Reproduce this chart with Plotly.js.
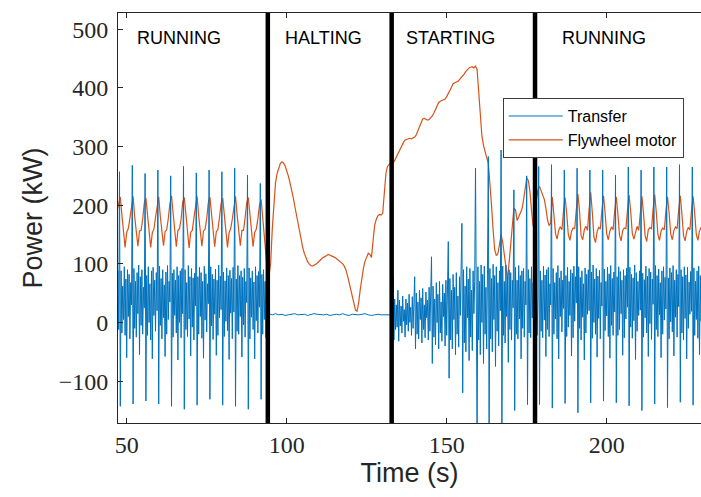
<!DOCTYPE html>
<html><head><meta charset="utf-8">
<script src="https://cdn.plot.ly/plotly-3.0.1.min.js"></script>
<style>html,body{margin:0;padding:0;background:#fff;overflow:hidden;} #chart{width:701px;height:497px;}</style>
</head><body><div id="chart"></div>
<script>
// ---------------- data ----------------
const seriesNames = ['Transfer', 'Flywheel motor'];
const phaseLabels = ['RUNNING', 'HALTING', 'STARTING', 'RUNNING'];
const phaseLabelTimes = [52.6, 98.8, 136.6, 185.4];
const phaseLabelPower = 485;
const phaseBoundaries = [94.1, 132.8, 177.6];
const xTickValues = [50, 100, 150, 200];
const yTickValues = [-100, 0, 100, 200, 300, 400, 500];

// Transfer power (kW), first running phase, sampled every 0.25 s from 47.0 s
const transferRunStart = 47.0, transferRunStep = 0.25;
const transferRunPower = [
  28, 88, -12,
  257, -143, 88, -18, 62, 5, 95, -22, 74, -60, 90, 10, 82, -28, 68, 30,
  268, -139, 92, -10, 70, -25, 85, 15, 98, -55, 78, -5, 90, -20, 60, 25,
  254, -134, 80, -22, 95, 0, 66, -30, 88, -62, 94, 12, 72, -15, 85, 20,
  260, -139, 96, -5, 75, -28, 90, 8, 64, -58, 86, -20, 97, 5, 70, 35,
  250, -143, 84, -25, 90, 12, 72, -18, 95, -64, 80, 0, 88, -26, 92, 15,
  266, -148, 90, -12, 68, -24, 97, 6, 78, -57, 92, -8, 76, -30, 84, 28,
  255, -141, 78, -20, 94, 10, 85, -27, 70, -61, 96, 4, 83, -16, 66, 32,
  260, -131, 95, -6, 82, -29, 74, 14, 91, -56, 72, -22, 98, 8, 79, 22,
  257, -141, 86, -24, 71, 2, 93, -14, 80, -63, 89, 16, 75, -28, 94, 18,
  263, -143, 74, -15, 97, -20, 80, 10, 88, -59, 77, -4, 92, -25, 70, 34,
  251, -148, 93, -28, 76, 9, 88, -12, 69, -62, 95, 3, 80, -18, 87, 26,
  237, -131, 82, -20, 90, 5, 70, -26, 60, 15
];
// Transfer power during halting, every 1 s from 94.5 s
const transferHaltStart = 94.5, transferHaltStep = 1.0;
const transferHaltPower = [
  14, 13, 15, 13, 14, 12, 13, 14, 15, 13,
  13, 14, 12, 13, 15, 14, 13, 13, 14, 12,
  13, 14, 13, 15, 13, 12, 14, 13, 13, 14,
  15, 13, 12, 13, 14, 13, 13, 14, 13
];
// Transfer power, starting + second running phase, every 0.25 s from 132.75 s
const transferRestartStart = 132.75, transferRestartStep = 0.25;
const transferRestartPower = [
  13, 35, 78, -30, 40, -12, 30, -8,
  55, -32, 38, -6, 28, -18, 45, 2, 22, -25, 40, -4, 33, -15, 48, 0, 26, -22, 44, -10, 36,
  78, -45,
  50, -20, 35, -28, 55, 5, 42, -35, 58, -12, 30, -26, 52, 8, 38, -30, 60, -15, 45,
  112, -70,
  62, -25, 40, -38, 68, 0, 48, -45, 70, -18, 35, -32, 65, 10, 50, -40, 72, -22, 55,
  138, -95,
  75, -30, 55, -45, 82, 5, 60, -55, 85, -20, 45, -42, 78, 12, 68,
  169, -120,
  90, -35, 62, -50, 95, 8, 74, -65, 92, -25, 55, -48, 88, 15, 70,
  263, -40, -190,
  95, -30, 70, -55, 98, 0, 82, -70, 96, -20, 60, -45, 90,
  283, -200,
  92, -28, 75, -50, 99, 5, 80, -75, 95, -15, 68, -40, 88, 20,
  294, -195,
  96, -22, 70, -35, 98, 10, 78, -68, 90, -12, 85, -30, 72, 25,
  226, -150,
  94, -20, 72, -28, 97, 6, 80, -62, 88, -10, 92, -25, 70, 30,
  250, -140,
  90, -18, 75, -26, 95, 8, 68, -60, 92, -8, 85, -22, 40,
  266, -140, 88, -15, 72, -26, 96, 4, 81, -58, 90, -12, 94, -24, 66, 30,
  269, -146, 92, -20, 68, 6, 85, -28, 97, -62, 76, 10, 88, -16, 72, 24,
  260, -138, 80, -24, 94, -8, 70, 12, 90, -57, 84, -26, 96, 2, 78, 33,
  263, -154, 95, -10, 77, -30, 88, 9, 66, -64, 93, -18, 82, 14, 90, 20,
  260, -137, 86, -27, 98, 0, 74, -20, 92, -59, 79, 7, 89, -28, 68, 28,
  260, -134, 91, -14, 70, 11, 94, -24, 83, -61, 97, -5, 75, -22, 86, 18,
  251, -137, 78, -22, 95, -12, 87, 15, 72, -56, 90, -26, 80, 6, 93, 26,
  265, -142, 94, -8, 82, -27, 76, 3, 98, -63, 85, -15, 70, 12, 88, 21,
  260, -150, 84, -25, 73, 8, 96, -18, 79, -58, 92, -2, 86, -29, 74, 31,
  265, -139, 97, -12, 80, -24, 91, 13, 68, -60, 88, -20, 95, 4, 77, 23,
  265, -145, 76, -28, 93, 1, 85, -16, 97, -57, 72, 9, 90, -25, 82, 27,
  269, -136, 90, -18, 78, -30, 95, 7, 81, -62, 94, -10, 69, 14, 87, 19,
  265, -141, 93, -22, 70, 5, 88, -27, 96, -55, 80, 2, 91, -15
];
// Flywheel motor power (kW), every 0.5 s from 47.0 s
const flywheelStart = 47.0, flywheelStep = 0.5;
const flywheelPower = [
  // first running phase
  190,
  205, 214, 183, 152, 128, 154, 160, 178,
  202, 215, 180, 155, 130, 156, 157, 176,
  204, 212, 184, 153, 128, 153, 159, 179,
  201, 214, 181, 156, 131, 155, 158, 177,
  203, 216, 182, 152, 129, 157, 160, 176,
  205, 213, 185, 154, 127, 154, 157, 178,
  202, 215, 181, 155, 130, 156, 159, 177,
  204, 214, 183, 153, 129, 155, 158, 179,
  203, 212, 180, 156, 128, 153, 160, 176,
  201, 215, 184, 152, 131, 157, 157, 178,
  204, 213, 182, 155, 129, 154, 159, 177,
  200, 210, 175, 140, 110, 85, 80, 102,
  // halting
  160, 208, 238, 254, 265, 271, 274, 272, 267, 260,
  250, 239, 228, 214, 199, 184, 169, 154, 140, 128,
  118, 110, 104, 100, 97, 96, 97, 99, 101, 104,
  106, 109, 111, 112, 114, 116, 115, 114, 113, 111,
  109, 107, 105, 102, 100, 96, 90, 80, 68, 55,
  42, 30, 21, 19, 34, 57, 77, 93, 105, 113,
  118, 116, 111, 140, 166, 176, 182, 184, 183, 186,
  222, 254, 266, 270, 272, 272,
  // starting
  274, 279, 285, 291, 296, 302, 307, 311, 312, 313,
  314, 313, 315, 316, 320, 326, 333, 341, 347, 348,
  346, 345, 346, 349, 352, 357, 364, 370, 375, 377,
  378, 379, 381, 385, 390, 394, 401, 407, 409, 410,
  411, 414, 418, 421, 424, 428, 432, 434, 435, 436,
  434, 437, 431, 398, 360, 318, 302, 289, 281, 272,
  242, 200, 158, 124, 114, 117, 133, 149, 137, 115,
  92, 74, 102, 135, 166, 195, 192, 174, 180, 188,
  193, 208, 230, 246, 242, 224, 192, 164, 188, 212,
  226,
  // second running phase
  232, 225, 215, 210, 195, 175, 165, 170,
  214, 188, 152, 142, 157, 163, 158, 190,
  213, 186, 150, 140, 155, 161, 160, 192,
  219, 190, 148, 141, 158, 164, 157, 193,
  222, 188, 146, 136, 155, 162, 159, 191,
  216, 187, 151, 141, 156, 163, 158, 190,
  214, 185, 149, 139, 157, 161, 160, 192,
  217, 189, 152, 142, 155, 164, 157, 191,
  215, 186, 148, 138, 158, 162, 159, 193,
  218, 188, 150, 140, 156, 161, 158, 190,
  214, 187, 151, 141, 157, 163, 160, 192,
  216, 185, 149, 139, 155, 162, 158, 191,
  215, 186, 150, 140, 156, 162, 166
];

// ---------------- build traces ----------------
function sampleTimes(start, step, n) {
  const t = [];
  for (let i = 0; i < n; i++) t.push(+(start + i * step).toFixed(3));
  return t;
}
const transferTime = []
  .concat(sampleTimes(transferRunStart, transferRunStep, transferRunPower.length))
  .concat(sampleTimes(transferHaltStart, transferHaltStep, transferHaltPower.length))
  .concat(sampleTimes(transferRestartStart, transferRestartStep, transferRestartPower.length));
const transferPower = [].concat(transferRunPower, transferHaltPower, transferRestartPower);
const flywheelTime = sampleTimes(flywheelStart, flywheelStep, flywheelPower.length);

const BLUE = '#0072BD', ORANGE = '#D95319', AXIS = '#262626';
const serif = 'Liberation Serif, Times New Roman, serif';
const sans = 'Liberation Sans, Arial, Helvetica, sans-serif';

const traces = [
  { x: flywheelTime, y: flywheelPower, name: seriesNames[1], type: 'scatter', mode: 'lines',
    line: { color: ORANGE, width: 1.2 } },
  { x: transferTime, y: transferPower, name: seriesNames[0], type: 'scatter', mode: 'lines',
    line: { color: BLUE, width: 1.0 } }
];

const shapes = phaseBoundaries.map(t => ({
  type: 'line', xref: 'x', yref: 'paper', x0: t, x1: t, y0: 0, y1: 1,
  line: { color: '#000', width: 4.5 }, layer: 'above'
}));

const annotations = phaseLabels.map((txt, i) => ({
  text: txt, x: phaseLabelTimes[i], y: phaseLabelPower, xref: 'x', yref: 'y',
  xanchor: 'left', yanchor: 'middle', showarrow: false,
  font: { family: sans, size: 18, color: '#000' }
}));

const layout = {
  width: 701, height: 497,
  margin: { l: 118, r: 0, t: 13, b: 74, pad: 0 },
  paper_bgcolor: '#fff', plot_bgcolor: '#fff',
  showlegend: true,
  legend: {
    x: 0.660, y: 0.7925, xanchor: 'left', yanchor: 'top',
    bgcolor: '#fff', bordercolor: '#3c3c3c', borderwidth: 1,
    font: { family: sans, size: 16, color: '#000' },
    traceorder: 'reversed', itemwidth: 54
  },
  xaxis: {
    range: [47.28, 229.47], tickvals: xTickValues, ticktext: xTickValues.map(String),
    ticks: 'inside', ticklen: 5, tickwidth: 1, tickcolor: AXIS,
    showline: true, linecolor: AXIS, linewidth: 1, mirror: 'ticks',
    showgrid: false, zeroline: false, ticklabelstandoff: 0,
    tickfont: { family: serif, size: 24, color: AXIS },
    title: { text: 'Time (s)', font: { family: sans, size: 27, color: AXIS }, standoff: 4 }
  },
  yaxis: {
    range: [-171.4, 527.6], tickvals: yTickValues,
    ticks: 'inside', ticklen: 5, tickwidth: 1, tickcolor: AXIS,
    showline: true, linecolor: AXIS, linewidth: 1, mirror: false,
    showgrid: false, zeroline: false, ticklabelstandoff: 4,
    tickfont: { family: serif, size: 24, color: AXIS },
    title: { text: 'Power (kW)', font: { family: sans, size: 27, color: AXIS }, standoff: 8 }
  },
  shapes: shapes,
  annotations: annotations
};

Plotly.newPlot('chart', traces, layout, { staticPlot: true, displayModeBar: false });
</script>
</body></html>
